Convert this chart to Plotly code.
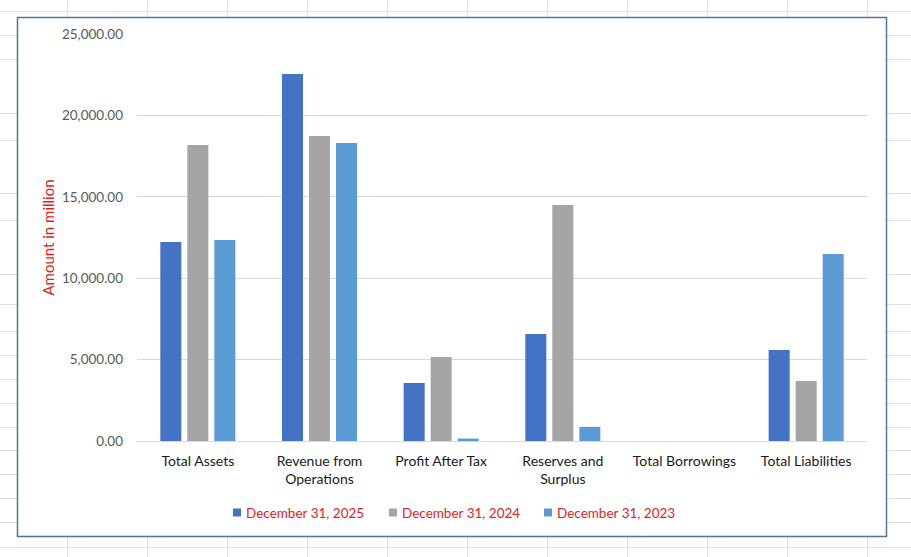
import plotly.graph_objects as go

# ---- data ----
categories = ["Total Assets", "Revenue from<br>Operations", "Profit After Tax",
              "Reserves and<br>Surplus", "Total Borrowings", "Total Liabilities"]
series_names = ["December 31, 2025", "December 31, 2024", "December 31, 2023"]
values_2025 = [12220, 22545, 3565, 6575, 0, 5590]
values_2024 = [18180, 18735, 5160, 14495, 0, 3685]
values_2023 = [12345, 18305, 150, 870, 0, 11490]
y_ticks = [0, 5000, 10000, 15000, 20000, 25000]

series_values = [values_2025, values_2024, values_2023]
colors = ["#4472C4", "#A5A5A5", "#5B9BD5"]

W, H = 911, 557
ML, MR, MT, MB = 137, 44, 34, 116
PW, PH = W - ML - MR, H - MT - MB

def fx(px):
    return (px - ML) / PW

def fy(py):
    return (H - MB - py) / PH

fig = go.Figure()
for name, vals, col in zip(series_names, series_values, colors):
    fig.add_trace(go.Bar(x=categories, y=vals, name=name, marker_color=col,
                         marker_line_width=0, showlegend=False))

# spreadsheet background grid
sheet_col = "#E1E1E1"
shapes = []
for px in range(67, 900, 80):
    shapes.append(dict(type="line", xref="paper", yref="paper", layer="below",
                       x0=fx(px + 0.5), x1=fx(px + 0.5), y0=fy(0), y1=fy(H),
                       line=dict(color=sheet_col, width=1)))
for py in [11, 35, 59, 113, 140, 193, 220, 274, 304, 331, 355, 379, 403, 427,
           450, 474, 498, 522, 547]:
    shapes.append(dict(type="line", xref="paper", yref="paper", layer="below",
                       x0=fx(0), x1=fx(W), y0=fy(py + 0.5), y1=fy(py + 0.5),
                       line=dict(color=sheet_col, width=1)))
# chart area box
shapes.append(dict(type="rect", xref="paper", yref="paper", layer="below",
                   x0=fx(17.5), x1=fx(886.5), y0=fy(17.5), y1=fy(536.5),
                   fillcolor="white", line=dict(color="#56739B", width=1.5)))

font_family = "Lato, Liberation Sans, sans-serif"
red = "#E01E1E"

# legend (drawn as small squares + text, matching the spreadsheet style)
annotations = []
legend_left = [233, 389, 544]
for name, col, lx in zip(series_names, colors, legend_left):
    shapes.append(dict(type="rect", xref="paper", yref="paper", layer="above",
                       x0=fx(lx), x1=fx(lx + 8), y0=fy(508.5), y1=fy(516.5),
                       fillcolor=col, line=dict(width=0)))
    annotations.append(dict(text=name, xref="paper", yref="paper",
                            x=fx(lx + 11), y=fy(512.5), xanchor="left",
                            yanchor="middle", showarrow=False,
                            font=dict(color=red, size=13.5, family=font_family)))

fig.update_layout(
    width=W, height=H, autosize=False,
    margin=dict(l=ML, r=MR, t=MT, b=MB, pad=0),
    paper_bgcolor="white", plot_bgcolor="rgba(0,0,0,0)",
    barmode="group", bargap=0.334, bargroupgap=0.222,
    font=dict(family=font_family, size=14, color="#262626"),
    shapes=shapes, annotations=annotations,
    showlegend=False,
    xaxis=dict(showline=True, linecolor="#D9D9D9", linewidth=1, ticks="",
               showgrid=False, tickfont=dict(size=14, color="#1A1A1A"),
               ticklabelstandoff=7),
    yaxis=dict(range=[0, 25000], tickvals=y_ticks, tickformat=",.2f",
               gridcolor="#D9D9D9", gridwidth=1, zeroline=False, showline=False,
               ticks="", tickfont=dict(size=13.5, color="#595959"),
               ticklabelstandoff=13,
               title=dict(text="Amount in million", font=dict(color=red, size=15),
                          standoff=3)),
)

fig.write_html("out.html")
